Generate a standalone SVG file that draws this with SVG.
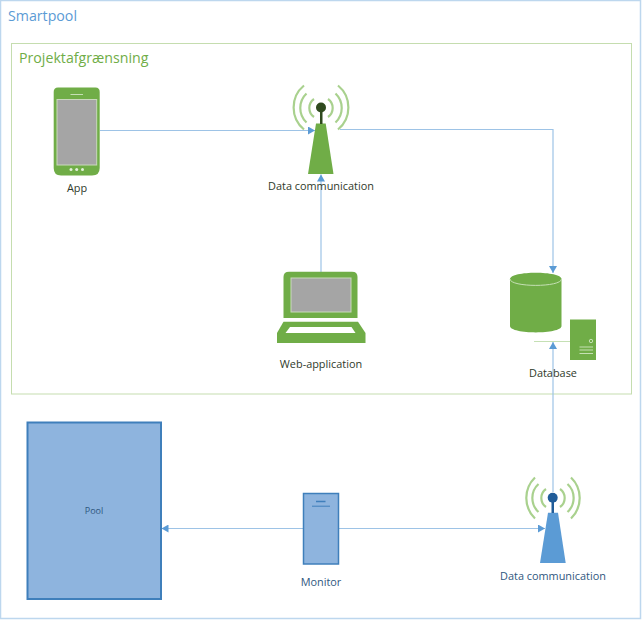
<svg xmlns="http://www.w3.org/2000/svg" width="642" height="621" viewBox="0 0 642 621">
<style>
text{font-family:"Open Sans","Noto Sans","Liberation Sans",sans-serif;font-size:10.9px}
.lbl{fill:#2f3a2a;text-anchor:middle}
.blbl{fill:#2f5780;text-anchor:middle}
.g{fill:#70AD47}
.b{fill:#5B9BD5}
.scr{fill:#A5A5A5;stroke:#C9D9BC;stroke-width:1}
.arc{fill:none;stroke:#A9D18E;stroke-width:2.200}
.conn{fill:none;stroke:#9DC3E6;stroke-width:1.200}
.wl{fill:none;stroke:#C5E0B4;stroke-width:1}
</style>
<defs>
<marker id="ah" markerUnits="userSpaceOnUse" markerWidth="8" markerHeight="8" refX="7" refY="4" orient="auto"><path d="M0,0L7,4L0,8Z" fill="#5B9BD5"/></marker>
</defs>
<rect width="642" height="621" fill="#fff"/>
<g id="smartpool">
<rect x="0.500" y="0.500" width="640" height="618" fill="none" stroke="#BDD7EE" stroke-width="1.500"/>
<text x="8" y="21" fill="#5B9BD5" style="font-size:14.200px">Smartpool</text>
</g>
<g id="projektafgraensning">
<rect x="11.500" y="43.500" width="620" height="350.500" fill="none" stroke="#C5DDAF" stroke-width="1"/>
<text x="19" y="63" fill="#70AD47" style="font-size:14.200px">Projektafgrænsning</text>
</g>
<g id="connectors">
<path class="conn" d="M100,130.500H315" marker-end="url(#ah)"/>
<path class="conn" d="M340,129.500H553V273" marker-end="url(#ah)"/>
<path class="conn" d="M321,272V174.500" marker-end="url(#ah)"/>
<path class="conn" d="M553,492V342" marker-end="url(#ah)"/>
<path class="conn" d="M303,528.500H161.500" marker-end="url(#ah)"/>
<path class="conn" d="M339,528.500H545" marker-end="url(#ah)"/>
</g>
<g id="app">
<path class="g" d="M58,87.500H95.500Q99.700,87.500 99.700,92V168Q99.700,175.500 92,175.500H61Q53.700,175.500 53.700,168V92Q53.700,87.500 58,87.500Z"/>
<rect class="scr" x="57" y="99.500" width="39.700" height="65.500"/>
<path d="M70.500,94.500H83" stroke="#C5E0B4" stroke-width="1"/>
<circle cx="71" cy="169.500" r="1.500" fill="#E2F0D9"/><circle cx="76.700" cy="169.500" r="1.500" fill="#E2F0D9"/><circle cx="82.500" cy="169.500" r="1.500" fill="#E2F0D9"/>
<text class="lbl" x="77" y="192">App</text>
</g>
<g id="data-communication-1">
<path class="arc" d="M314,117A11,11 0 0 1 314,99M328,99A11,11 0 0 1 328,117M306.500,122.500A20,20 0 0 1 306.500,93.500M335.500,93.500A20,20 0 0 1 335.500,122.500M304,129.500A28.500,28.500 0 0 1 304,85.500M338,85.500A28.500,28.500 0 0 1 338,129.500"/>
<path d="M316,123.500H325.700L333.500,174H308Z" class="g"/>
<rect x="320" y="110" width="2.500" height="14" fill="#2F4A1E"/>
<circle cx="321" cy="107.500" r="5" fill="#2F4A1E"/>
<text class="lbl" x="321" y="190">Data communication</text>
</g>
<g id="web-application">
<path class="g" d="M289,271.700H352Q357.500,271.700 357.500,277V318H283.500V277Q283.500,271.700 289,271.700Z"/>
<rect class="scr" x="291" y="278" width="60" height="34"/>
<path class="g" d="M283.500,321.700H358L365.500,333V343H277V333Z"/>
<path d="M290,327H351.500L355.500,333H285.500Z" fill="#fff"/>
<text class="lbl" x="321" y="368">Web-application</text>
</g>
<g id="database">
<path class="wl" d="M534,341.500H570"/>
<path class="g" d="M510,279C510,270.500 561.500,270.500 561.500,279V326C561.500,334.500 510,334.500 510,326Z"/>
<path d="M510,279C510,287.500 561.500,287.500 561.500,279" fill="none" stroke="#C5E0B4" stroke-width="1"/>
<rect class="g" x="570" y="319.500" width="26" height="40.500"/>
<circle cx="591" cy="341" r="1.700" fill="none" stroke="#C5E0B4" stroke-width="1"/>
<path d="M579.500,347H593M579.500,350H593M579.500,353.500H593" stroke="#C5E0B4" stroke-width="1"/>
<text class="lbl" x="553" y="377">Database</text>
</g>
<g id="pool">
<rect x="27.500" y="422.500" width="133.500" height="176.500" fill="#8EB4DE" stroke="#3F7FBB" stroke-width="2"/>
<text class="blbl" x="94" y="514" style="font-size:9px">Pool</text>
</g>
<g id="monitor">
<rect x="303.500" y="493.500" width="35" height="70.500" fill="#8EB4DE" stroke="#3F7FBB" stroke-width="1.500"/>
<path d="M316,501.500H325.500" stroke="#3F7FBB" stroke-width="1.500"/>
<path d="M312,506.200H330" stroke="#3F7FBB" stroke-width="1"/>
<text class="blbl" x="321" y="586">Monitor</text>
</g>
<g id="data-communication-2">
<path class="arc" d="M546,507A11,11 0 0 1 546,489M560,489A11,11 0 0 1 560,507M538.500,512A19,19 0 0 1 538.500,484M567.500,484A19,19 0 0 1 567.500,512M535,518.500A28.500,28.500 0 0 1 535,477.500M571,477.500A28.500,28.500 0 0 1 571,518.500"/>
<path d="M548,512.700H558L565.700,563H540Z" class="b"/>
<rect x="551.500" y="500" width="2.500" height="13" fill="#1F5C99"/>
<circle cx="552.700" cy="497.700" r="5" fill="#1F5C99"/>
<text class="blbl" x="553" y="580">Data communication</text>
</g>
</svg>
